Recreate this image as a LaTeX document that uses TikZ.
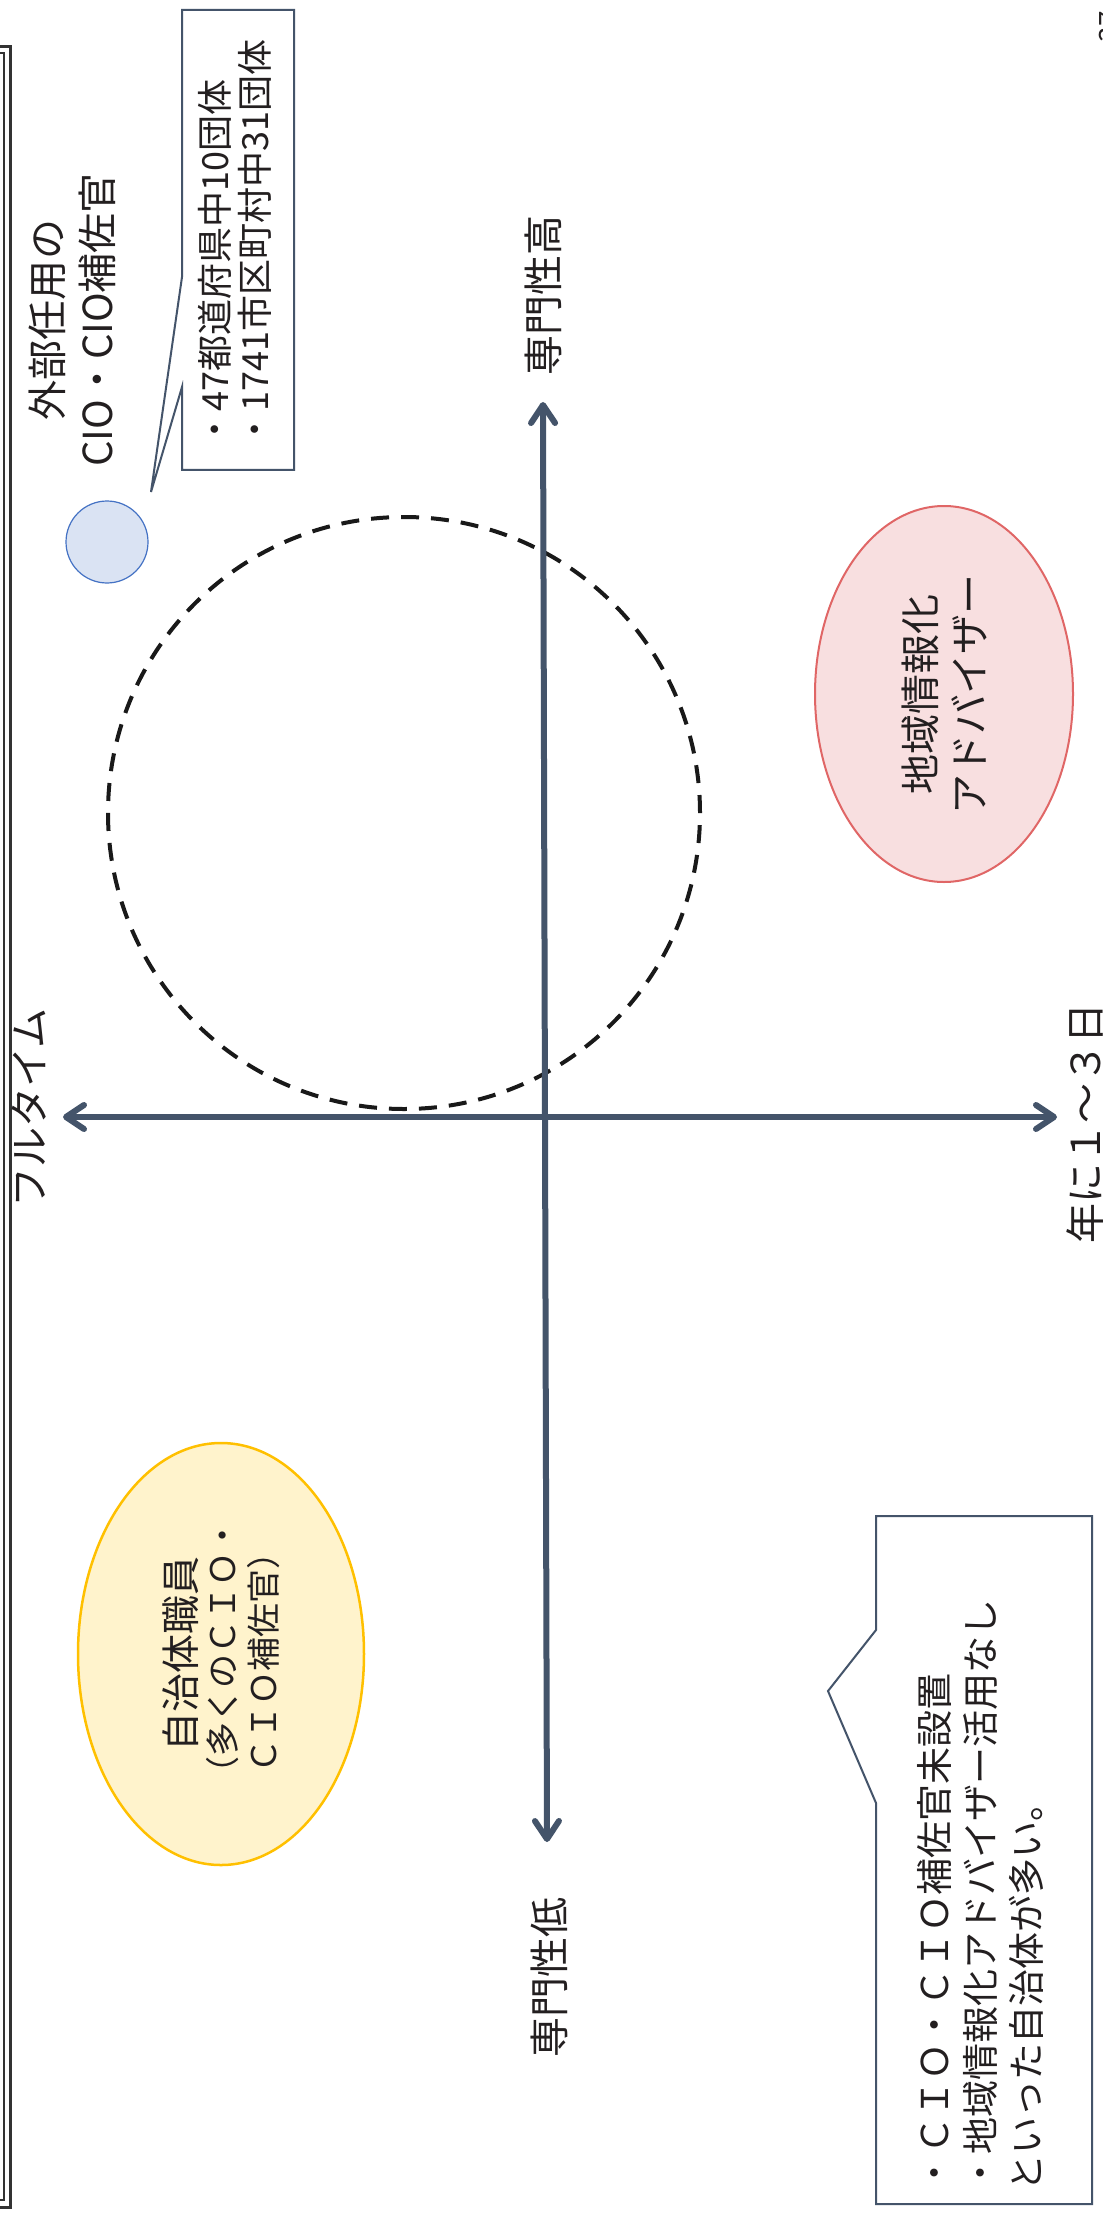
\documentclass[tikz,border=0pt]{standalone}
\usepackage{fontspec}
\setmainfont{Noto Sans CJK JP}
\usetikzlibrary{arrows.meta,shapes.geometric}
\definecolor{axiscol}{HTML}{44546A}
\definecolor{txt}{HTML}{231F20}
\definecolor{pinkfill}{HTML}{F8DFE0}
\definecolor{pinkline}{HTML}{E06666}
\definecolor{yelfill}{HTML}{FFF3CC}
\definecolor{yelline}{HTML}{FFC000}
\definecolor{bluefill}{HTML}{DAE3F3}
\definecolor{blueline}{HTML}{4472C4}
\definecolor{framecol}{HTML}{333333}
\begin{document}
\begin{tikzpicture}[x=0.5pt,y=-0.5pt,
  lbl/.style={rotate=90, text=txt, inner sep=0pt, align=center, font=\fontsize{20}{25}\selectfont},
  axisline/.style={draw=axiscol, line width=3pt, line cap=round,
    {Straight Barb[length=9pt,width=12pt,round]}-{Straight Barb[length=9pt,width=12pt,round]}},
  callout/.style={draw=axiscol, line width=1pt, fill=white, line join=miter},
  blob/.style={ellipse, rotate=90, inner sep=0pt, align=center, text=txt},
]
\useasboundingbox (0,0) rectangle (1102,2214);
\fill[white] (0,0) rectangle (1102,2214);

% page frame (double line)
\draw[framecol, line width=1.5pt] (-20,47) -- (10,47) -- (10,2207) -- (-20,2207);
\draw[framecol, line width=1pt] (-20,53) -- (4,53) -- (4,2200) -- (-20,2200);

% partial page number
\node[rotate=90, inner sep=0pt, text=txt, font=\fontsize{14}{16}\selectfont] (pg) at (1109,27) {37};

% dashed circle
\node[circle, draw=black!90, line width=2pt, dash pattern=on 9pt off 6pt,
      minimum size=296pt, inner sep=0pt] (dc) at (404,813) {};

% axes
\coordinate (ytop) at (543,402);
\coordinate (ybot) at (547,1842);
\coordinate (xl) at (63,1117);
\coordinate (xr) at (1057,1117);
\draw[axisline] (ybot) -- (ytop);
\draw[axisline] (xl) -- (xr);

% axis labels
\node[lbl] (hi) at (543,296) {専門性高};
\node[lbl] (lo) at (549,1977) {専門性低};
\node[lbl] (ft) at (29,1108) {フルタイム};
\node[lbl] (yr) at (1085,1123) {年に１～３日};

% blue circle + label
\node[circle, fill=bluefill, draw=blueline, line width=0.6pt, minimum size=41pt, inner sep=0pt] (bc) at (107,542) {};
\node[lbl] (ext) at (72,320) {外部任用の\\CIO・CIO補佐官};

% top callout
\draw[callout] (182,10) -- (294,10) -- (294,470) -- (182,470) -- (182,387)
  -- (151,492) -- (182,277) -- cycle;
\node[lbl, align=left, anchor=west, font=\fontsize{18}{20}\selectfont] (tc) at (235,448)
  {・47都道府県中10団体\\・1741市区町村中31団体};

% pink ellipse
\node[blob, fill=pinkfill, draw=pinkline, line width=1pt,
      minimum width=188pt, minimum height=129pt,
      font=\fontsize{20}{24.5}\selectfont] (adv) at (944,694) {地域情報化\\アドバイザー};

% yellow ellipse
\node[blob, fill=yelfill, draw=yelline, line width=1.25pt,
      minimum width=211pt, minimum height=143pt,
      font=\fontsize{19.5}{20.25}\selectfont] (staff) at (221,1654)
  {自治体職員\\{\fontsize{17}{20.25}\selectfont （多くのＣＩＯ・}\\{\fontsize{17}{20.25}\selectfont ＣＩＯ補佐官）}};

% bottom callout
\draw[callout] (876,1516) -- (1092,1516) -- (1092,2204) -- (876,2204) -- (876,1803)
  -- (828,1691) -- (876,1630) -- cycle;
\node[lbl, align=left, anchor=west, font=\fontsize{18.5}{23}\selectfont] (bc2) at (980,2192)
  {・ＣＩＯ・ＣＩＯ補佐官未設置\\・地域情報化アドバイザー活用なし\\といった自治体が多い。};
\end{tikzpicture}
\end{document}
